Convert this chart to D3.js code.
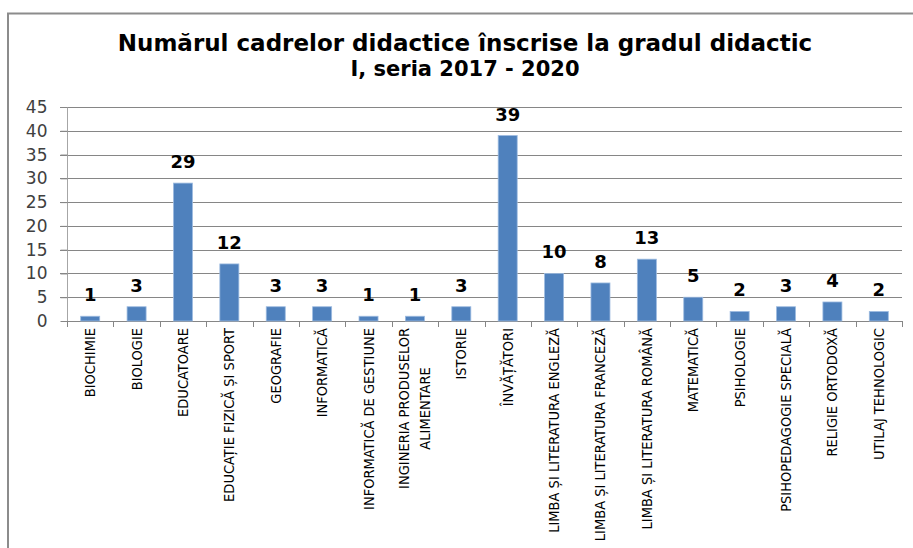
<!DOCTYPE html>
<html>
<head>
<meta charset="utf-8">
<script src="https://cdn.jsdelivr.net/npm/d3@7/dist/d3.min.js"></script>
<style>
  html, body { margin: 0; padding: 0; background: #fff; }
  svg { display: block; }
</style>
</head>
<body>
<svg id="chart" width="913" height="548"></svg>
<script>
// Categories (each inner array holds the label's lines)
const categories = [
  ["BIOCHIMIE"],
  ["BIOLOGIE"],
  ["EDUCATOARE"],
  ["EDUCAȚIE FIZICĂ ȘI SPORT"],
  ["GEOGRAFIE"],
  ["INFORMATICĂ"],
  ["INFORMATICĂ DE GESTIUNE"],
  ["INGINERIA PRODUSELOR", "ALIMENTARE"],
  ["ISTORIE"],
  ["ÎNVĂȚĂTORI"],
  ["LIMBA ȘI LITERATURA ENGLEZĂ"],
  ["LIMBA ȘI LITERATURA FRANCEZĂ"],
  ["LIMBA ȘI LITERATURA ROMÂNĂ"],
  ["MATEMATICĂ"],
  ["PSIHOLOGIE"],
  ["PSIHOPEDAGOGIE SPECIALĂ"],
  ["RELIGIE ORTODOXĂ"],
  ["UTILAJ TEHNOLOGIC"]
];
const values = [1, 3, 29, 12, 3, 3, 1, 1, 3, 39, 10, 8, 13, 5, 2, 3, 4, 2];
const yTicks = [0, 5, 10, 15, 20, 25, 30, 35, 40, 45];
const titleLines = [
  "Numărul cadrelor didactice înscrise la gradul didactic",
  "I, seria 2017 - 2020"
];

const svg = d3.select("#chart");
const W = 913, H = 548;
const plot = { left: 67, right: 902, top: 107, bottom: 321 };

// Outer chart frame
svg.append("rect")
  .attr("x", 8).attr("y", 13.5)
  .attr("width", W + 20).attr("height", H + 20)
  .attr("fill", "#fff")
  .attr("stroke", "#8c8c8c").attr("stroke-width", 2);

// Title
const titleSizes = [23, 21];
const titleBase = [51, 76];
svg.append("g").selectAll("text").data(titleLines).join("text")
  .attr("x", 465)
  .attr("y", (d, i) => titleBase[i])
  .attr("text-anchor", "middle")
  .attr("font-family", "DejaVu Sans, sans-serif")
  .attr("font-weight", "bold")
  .attr("font-size", (d, i) => titleSizes[i])
  .attr("fill", "#000")
  .text(d => d);

const keys = categories.map((c, i) => i);
const x = d3.scaleBand().domain(keys).range([plot.left, plot.right]).paddingInner(0.59).paddingOuter(0.295);
const xStep = d3.scaleBand().domain(keys).range([plot.left, plot.right]);
const y = d3.scaleLinear().domain([0, 45]).range([plot.bottom, plot.top]);

// Gridlines
svg.append("g").selectAll("line").data(yTicks.filter(t => t > 0)).join("line")
  .attr("x1", plot.left - 7).attr("x2", plot.right)
  .attr("y1", d => Math.round(y(d)) + 0.5).attr("y2", d => Math.round(y(d)) + 0.5)
  .attr("stroke", "#868686").attr("stroke-width", 1);

// Y axis
const yAxis = svg.append("g")
  .attr("transform", `translate(${plot.left + 0.5},0)`)
  .call(d3.axisLeft(y).tickValues(yTicks).tickSize(7).tickPadding(13));
yAxis.select(".domain").attr("stroke", "#a6a6a6").attr("d", `M0,${plot.top}V${plot.bottom}`);
yAxis.selectAll(".tick line").attr("stroke", "#868686");
yAxis.selectAll(".tick text")
  .attr("font-family", "DejaVu Sans, sans-serif")
  .attr("font-size", 17)
  .attr("fill", "#404040");

// X axis line and category boundary ticks
const bounds = d3.range(categories.length + 1).map(i => plot.left + i * xStep.step());
svg.append("line")
  .attr("x1", plot.left).attr("x2", plot.right)
  .attr("y1", plot.bottom + 0.5).attr("y2", plot.bottom + 0.5)
  .attr("stroke", "#868686");
svg.append("g").selectAll("line").data(bounds).join("line")
  .attr("x1", d => Math.round(d) + 0.5).attr("x2", d => Math.round(d) + 0.5)
  .attr("y1", plot.bottom).attr("y2", plot.bottom + 6)
  .attr("stroke", "#868686");

// Bars
svg.append("g").selectAll("rect").data(values).join("rect")
  .attr("x", (d, i) => x(i))
  .attr("y", d => y(d))
  .attr("width", x.bandwidth())
  .attr("height", d => plot.bottom - y(d))
  .attr("fill", "#4f81bd")
  .attr("stroke", "#9dbbe0").attr("stroke-width", 0.8);

// Value labels
svg.append("g").selectAll("text").data(values).join("text")
  .attr("x", (d, i) => x(i) + x.bandwidth() / 2)
  .attr("y", d => y(d) - 15)
  .attr("text-anchor", "middle")
  .attr("font-family", "DejaVu Sans, sans-serif")
  .attr("font-weight", "bold")
  .attr("font-size", 18)
  .attr("fill", "#000")
  .text(d => d);

// Rotated category labels, lines centred on each other
const lblG = svg.append("g");
categories.forEach((lines, i) => {
  const cx = x(i) + x.bandwidth() / 2;
  const g = lblG.append("g");
  const texts = lines.map(l => g.append("text")
    .attr("font-family", "DejaVu Sans Condensed, DejaVu Sans, sans-serif")
    .attr("font-size", 14.5)
    .attr("fill", "#000")
    .attr("text-anchor", "middle")
    .text(l));
  const maxLen = d3.max(texts, t => t.node().getComputedTextLength());
  const top = plot.bottom + 7;
  const lineH = 21;
  const n = lines.length;
  texts.forEach((t, j) => {
    const off = (j - (n - 1) / 2) * lineH + 5;
    t.attr("transform", `translate(${cx + off},${top + maxLen / 2}) rotate(-90)`);
  });
});
</script>
</body>
</html>
